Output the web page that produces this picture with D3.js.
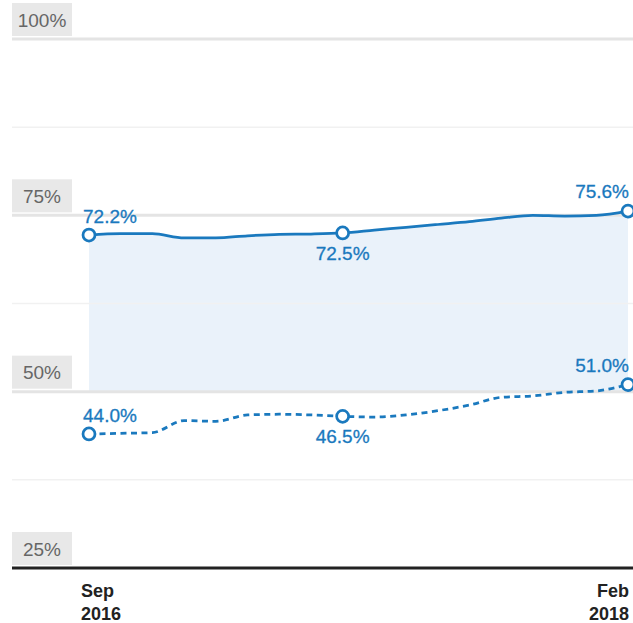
<!DOCTYPE html>
<html lang="en">
  <head>
    <meta charset="UTF-8" />
    <title>Share over time</title>
    <style>
      body {
        margin: 0;
        background: #fff;
      }
      svg {
        display: block;
        font-family: "Liberation Sans", Arial, Helvetica, sans-serif;
      }
      .grid-major {
        stroke: #e4e4e4;
        stroke-width: 3;
      }
      .grid-minor {
        stroke: #f1f1f1;
        stroke-width: 1.5;
      }
      .tick-box {
        fill: #e8e8e8;
      }
      .tick-text {
        fill: #666;
        font-size: 19px;
      }
      .axis-line {
        stroke: #222;
        stroke-width: 3;
      }
      .axis-text {
        fill: #222;
        font-size: 18px;
        font-weight: bold;
      }
      .area {
        fill: #eaf2fa;
      }
      .line {
        fill: none;
        stroke: #1a79be;
        stroke-width: 2.75;
      }
      .dot {
        fill: #fff;
        stroke: #1a79be;
        stroke-width: 2.75;
      }
      .val {
        fill: #1a79be;
        font-size: 19px;
        stroke: #1a79be;
        stroke-width: 0.3;
      }
    </style>
  </head>
  <body>
    <svg width="633" height="623"></svg>
    <script src="https://d3js.org/d3.v7.min.js"></script>
    <script>
      // 資料
      const months = ["2016-09", "2016-10", "2016-11", "2016-12", "2017-01", "2017-02",
        "2017-03", "2017-04", "2017-05", "2017-06", "2017-07", "2017-08",
        "2017-09", "2017-10", "2017-11", "2017-12", "2018-01", "2018-02"];
      const upper = [72.2, 72.4, 72.4, 71.8, 71.8, 72.1, 72.3, 72.35, 72.5, 72.9,
        73.3, 73.7, 74.1, 74.6, 75.0, 74.9, 75.0, 75.6];
      const lower = [44.0, 44.1, 44.2, 45.9, 45.8, 46.7, 46.8, 46.7, 46.5, 46.4,
        46.7, 47.3, 48.1, 49.2, 49.4, 49.9, 50.1, 51.0];
      const majorTicks = [25, 50, 75, 100];
      const minorTicks = [37.5, 62.5, 87.5];
      const xLabels = [["Sep", "2016"], ["Feb", "2018"]];
      const labelled = [0, 8, 17];

      const svg = d3.select("svg");
      const left = 12, right = 633;

      const x = d3.scalePoint().domain(months).range([89, 628]);
      const y = d3.scaleLinear().domain([25, 100]).range([568, 39]);

      // 區塊
      const areaGen = d3.area()
        .x((d, i) => x(months[i]))
        .y0(y(50))
        .y1(d => y(d))
        .curve(d3.curveMonotoneX);
      svg.append("path").datum(upper).attr("class", "area").attr("d", areaGen);

      // 格線
      svg.selectAll(".grid-minor")
        .data(minorTicks)
        .enter()
        .append("line")
        .attr("class", "grid-minor")
        .attr("x1", left).attr("x2", right)
        .attr("y1", d => y(d)).attr("y2", d => y(d));

      svg.selectAll(".grid-major")
        .data(majorTicks.filter(d => d !== 25))
        .enter()
        .append("line")
        .attr("class", "grid-major")
        .attr("x1", left).attr("x2", right)
        .attr("y1", d => y(d)).attr("y2", d => y(d));

      svg.append("line")
        .attr("class", "axis-line")
        .attr("x1", left).attr("x2", right)
        .attr("y1", y(25)).attr("y2", y(25));

      // Y軸標籤
      const tk = svg.selectAll(".tick").data(majorTicks).enter().append("g").attr("class", "tick");
      tk.append("rect")
        .attr("class", "tick-box")
        .attr("x", left).attr("width", 60)
        .attr("y", d => y(d) - 36).attr("height", 33);
      tk.append("text")
        .attr("class", "tick-text")
        .attr("x", left + 30)
        .attr("y", d => y(d) - 12.5)
        .attr("text-anchor", "middle")
        .text(d => d + "%");

      // X軸標籤
      [0, months.length - 1].forEach((idx, k) => {
        const t = svg.append("text")
          .attr("class", "axis-text")
          .attr("text-anchor", k === 0 ? "start" : "end")
          .attr("x", k === 0 ? x(months[idx]) - 8 : x(months[idx]) + 1);
        t.append("tspan").attr("y", 597).text(xLabels[k][0]);
        t.append("tspan")
          .attr("x", k === 0 ? x(months[idx]) - 8 : x(months[idx]) + 1)
          .attr("y", 620).text(xLabels[k][1]);
      });

      // 線
      const lineGen = d3.line()
        .x((d, i) => x(months[i]))
        .y(d => y(d))
        .curve(d3.curveMonotoneX);
      svg.append("path").datum(upper).attr("class", "line").attr("d", lineGen);
      svg.append("path").datum(lower).attr("class", "line")
        .attr("stroke-dasharray", "6,4.5").attr("d", lineGen);

      // 點與數值
      [upper, lower].forEach(series => {
        labelled.forEach((i, k) => {
          const cx = x(months[i]), cy = y(series[i]);
          svg.append("circle").attr("class", "dot")
            .attr("cx", cx).attr("cy", cy).attr("r", 6);
          let tx = cx, ty = cy, anchor = "middle";
          if (k === 0) { tx = cx - 6; ty = cy - 12; anchor = "start"; }
          else if (k === 1) { ty = cy + 27; }
          else { tx = cx + 1; ty = cy - 13; anchor = "end"; }
          svg.append("text").attr("class", "val")
            .attr("x", tx).attr("y", ty)
            .attr("text-anchor", anchor)
            .text(series[i].toFixed(1) + "%");
        });
      });
    </script>
  </body>
</html>
